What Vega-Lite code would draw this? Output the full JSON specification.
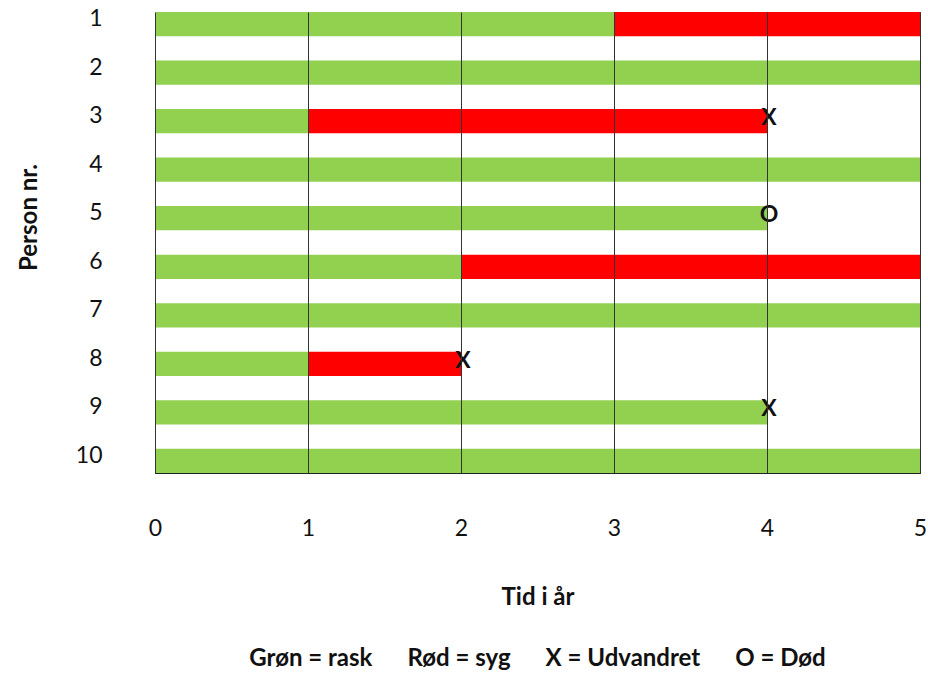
{
  "$schema": "https://vega.github.io/schema/vega-lite/v6.json",
  "autosize": {"type": "none"},
  "width": 765,
  "height": 461,
  "padding": {"left": 155, "top": 12, "right": 8, "bottom": 202},
  "background": "white",
  "config": {
    "font": "Lato",
    "view": {"stroke": "#333333", "strokeWidth": 1}
  },
  "title": {
    "text": "Grøn = rask\u00a0\u00a0\u00a0\u00a0\u00a0\u00a0Rød = syg\u00a0\u00a0\u00a0\u00a0\u00a0\u00a0X = Udvandret\u00a0\u00a0\u00a0\u00a0\u00a0\u00a0O = Død",
    "orient": "bottom",
    "anchor": "middle",
    "font": "Lato",
    "fontSize": 24,
    "fontWeight": "bold",
    "color": "#111111",
    "offset": 38
  },
  "datasets": {
    "segments": [
      {"person": 1, "start": 0, "end": 3, "status": "rask"},
      {"person": 1, "start": 3, "end": 5, "status": "syg"},
      {"person": 2, "start": 0, "end": 5, "status": "rask"},
      {"person": 3, "start": 0, "end": 1, "status": "rask"},
      {"person": 3, "start": 1, "end": 4, "status": "syg"},
      {"person": 4, "start": 0, "end": 5, "status": "rask"},
      {"person": 5, "start": 0, "end": 4, "status": "rask"},
      {"person": 6, "start": 0, "end": 2, "status": "rask"},
      {"person": 6, "start": 2, "end": 5, "status": "syg"},
      {"person": 7, "start": 0, "end": 5, "status": "rask"},
      {"person": 8, "start": 0, "end": 1, "status": "rask"},
      {"person": 8, "start": 1, "end": 2, "status": "syg"},
      {"person": 9, "start": 0, "end": 4, "status": "rask"},
      {"person": 10, "start": 0, "end": 5, "status": "rask"}
    ],
    "events": [
      {"person": 3, "time": 4, "label": "X"},
      {"person": 5, "time": 4, "label": "O"},
      {"person": 8, "time": 2, "label": "X"},
      {"person": 9, "time": 4, "label": "X"}
    ]
  },
  "encoding": {
    "y": {
      "field": "person",
      "type": "ordinal",
      "sort": "ascending",
      "scale": {"domain": [1,2,3,4,5,6,7,8,9,10], "paddingInner": 0.5, "paddingOuter": 0},
      "axis": {
        "title": "Person nr.",
        "titleFont": "Lato",
        "titleFontSize": 24,
        "titleFontWeight": "bold",
        "titleColor": "#111111",
        "titlePadding": 34,
        "titleY": 205,
        "labelFont": "Lato",
        "labelFontSize": 23,
        "labelColor": "#111111",
        "labelPadding": 53,
        "labelOffset": -5,
        "ticks": false,
        "domain": true,
        "domainColor": "#222222",
        "grid": false
      }
    }
  },
  "layer": [
    {
      "data": {"name": "segments"},
      "mark": {"type": "bar", "cornerRadius": 0},
      "encoding": {
        "x": {
          "field": "start",
          "type": "quantitative",
          "scale": {"domain": [0, 5], "nice": false},
          "axis": {
            "title": "Tid i år",
            "titleFont": "Lato",
            "titleFontSize": 24,
            "titleFontWeight": "bold",
            "titleColor": "#111111",
            "titlePadding": 45,
            "values": [0, 1, 2, 3, 4, 5],
            "format": "d",
            "labelFont": "Lato",
            "labelFontSize": 23,
            "labelColor": "#111111",
            "labelPadding": 44,
            "labelFlush": false,
            "ticks": false,
            "domain": true,
            "domainColor": "#222222",
            "grid": true,
            "gridColor": "#333333",
            "gridOpacity": 1,
            "gridWidth": 1,
            "zindex": 1
          }
        },
        "x2": {"field": "end"},
        "color": {
          "field": "status",
          "type": "nominal",
          "scale": {"domain": ["rask", "syg"], "range": ["#92D050", "#FF0000"]},
          "legend": null
        }
      }
    },
    {
      "data": {"name": "events"},
      "mark": {"type": "text", "font": "Lato", "fontSize": 23, "fontWeight": "bold", "color": "#111111", "align": "center", "baseline": "middle", "dx": 2, "dy": -3},
      "encoding": {
        "x": {"field": "time", "type": "quantitative"},
        "text": {"field": "label"}
      }
    }
  ]
}
